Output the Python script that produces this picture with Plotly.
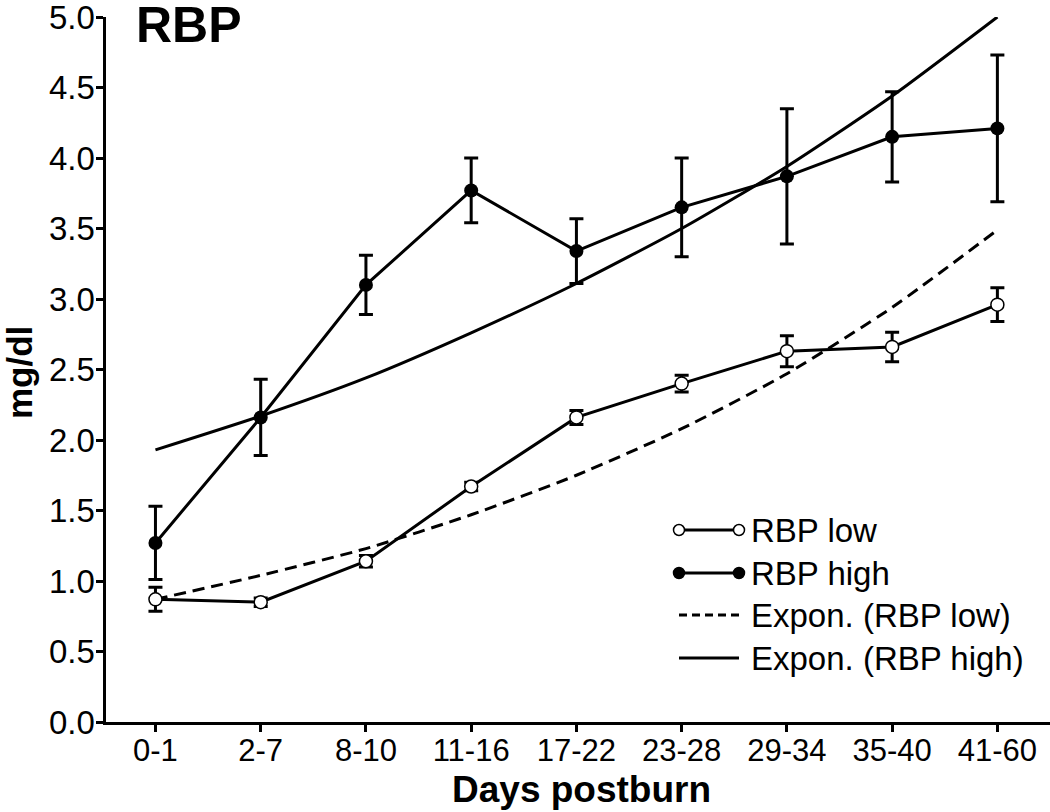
import plotly.graph_objects as go

categories = ["0-1", "2-7", "8-10", "11-16", "17-22", "23-28", "29-34", "35-40", "41-60"]
rbp_high = [1.27, 2.16, 3.10, 3.77, 3.34, 3.65, 3.87, 4.15, 4.21]
rbp_high_err = [0.26, 0.27, 0.21, 0.23, 0.23, 0.35, 0.48, 0.32, 0.52]
rbp_low = [0.87, 0.85, 1.14, 1.67, 2.16, 2.40, 2.63, 2.66, 2.96]
rbp_low_err = [0.085, 0.03, 0.04, 0.03, 0.05, 0.06, 0.11, 0.105, 0.12]
trend_high = [1.93, 2.17, 2.44, 2.76, 3.11, 3.50, 3.94, 4.44, 5.00]
trend_low = [0.87, 1.04, 1.23, 1.47, 1.75, 2.08, 2.47, 2.94, 3.49]
y_ticks = [0.0, 0.5, 1.0, 1.5, 2.0, 2.5, 3.0, 3.5, 4.0, 4.5, 5.0]
legend_labels = ["RBP low", "RBP high", "Expon. (RBP low)", "Expon. (RBP high)"]

W, H = 1050, 812
L, R, T, B = 106, 0, 17, 90
FONT = "Liberation Sans, Arial, sans-serif"

fig = go.Figure()

fig.add_trace(go.Scatter(
    x=categories, y=trend_low, mode="lines", line=dict(color="black", width=3, dash="12px,7px", shape="spline", smoothing=0.6),
    showlegend=False, cliponaxis=False, hoverinfo="skip"))
fig.add_trace(go.Scatter(
    x=categories, y=trend_high, mode="lines", line=dict(color="black", width=3, shape="spline", smoothing=0.6),
    showlegend=False, cliponaxis=False, hoverinfo="skip"))
fig.add_trace(go.Scatter(
    x=categories, y=rbp_low, mode="lines+markers",
    line=dict(color="black", width=3),
    marker=dict(symbol="circle", size=13, color="white", line=dict(color="black", width=1.5)),
    error_y=dict(type="data", array=rbp_low_err, color="black", thickness=3, width=7),
    showlegend=False, cliponaxis=False))
fig.add_trace(go.Scatter(
    x=categories, y=rbp_high, mode="lines+markers",
    line=dict(color="black", width=3),
    marker=dict(symbol="circle", size=14, color="black"),
    error_y=dict(type="data", array=rbp_high_err, color="black", thickness=3, width=7),
    showlegend=False, cliponaxis=False))

pw, ph = W - L - R, H - T - B
def px(x):
    return (x - L) / pw
def py(y):
    return (H - B - y) / ph

# manual legend
rows_y = [530, 573, 615, 658]
shapes = []
annotations = []
for i, (label, yy) in enumerate(zip(legend_labels, rows_y)):
    x0, x1 = 679, 739
    dash = "solid" if i != 2 else "8px,5px"
    shapes.append(dict(type="line", xref="paper", yref="paper", x0=px(x0), x1=px(x1), y0=py(yy), y1=py(yy),
                       line=dict(color="black", width=3, dash=dash)))
    if i < 2:
        fill = "white" if i == 0 else "black"
        r = 5.5
        for cx in (x0, x1):
            shapes.append(dict(type="circle", xref="paper", yref="paper",
                               x0=px(cx - r), x1=px(cx + r), y0=py(yy - r), y1=py(yy + r),
                               fillcolor=fill, line=dict(color="black", width=1.5)))
    annotations.append(dict(text=label, xref="paper", yref="paper", x=px(749), y=py(yy),
                            xanchor="left", yanchor="middle", showarrow=False,
                            font=dict(family=FONT, size=33, color="black")))

# y tick labels placed through the y scale
for v in y_ticks:
    annotations.append(dict(text=f"{v:.1f}", xref="paper", yref="y", x=px(97), y=v,
                            xanchor="right", yanchor="middle", showarrow=False,
                            font=dict(family=FONT, size=33, color="black")))

annotations.append(dict(text="<b>RBP</b>", xref="paper", yref="paper", x=px(134), y=py(25),
                        xanchor="left", yanchor="middle", showarrow=False,
                        font=dict(family=FONT, size=50, color="black")))
annotations.append(dict(text="<b>Days postburn</b>", xref="paper", yref="paper", x=px(581), y=py(790),
                        xanchor="center", yanchor="middle", showarrow=False,
                        font=dict(family=FONT, size=37, color="black")))
annotations.append(dict(text="<b>mg/dl</b>", xref="paper", yref="paper", x=px(19), y=py(373),
                        xanchor="center", yanchor="middle", showarrow=False, textangle=-90,
                        font=dict(family=FONT, size=35, color="black")))

fig.update_layout(
    width=W, height=H,
    margin=dict(l=L, r=R, t=T, b=B, autoexpand=False),
    plot_bgcolor="white", paper_bgcolor="white",
    font=dict(family=FONT, color="black"),
    shapes=shapes, annotations=annotations,
    xaxis=dict(
        type="category", range=[-0.47, 8.5], automargin=False,
        showline=True, linecolor="black", linewidth=3,
        ticks="outside", ticklen=7, tickwidth=3, tickcolor="black",
        tickfont=dict(family=FONT, size=31, color="black"),
        ticklabelstandoff=-8,
        showgrid=False, zeroline=False,
    ),
    yaxis=dict(
        range=[0, 5.0], tickvals=y_ticks, showticklabels=False, automargin=False,
        showline=True, linecolor="black", linewidth=3,
        ticks="outside", ticklen=7, tickwidth=3, tickcolor="black",
        showgrid=False, zeroline=False,
    ),
)

fig.write_html("out.html", config={"displayModeBar": False},
               post_script="document.body.style.margin='0';document.body.style.padding='0';")
